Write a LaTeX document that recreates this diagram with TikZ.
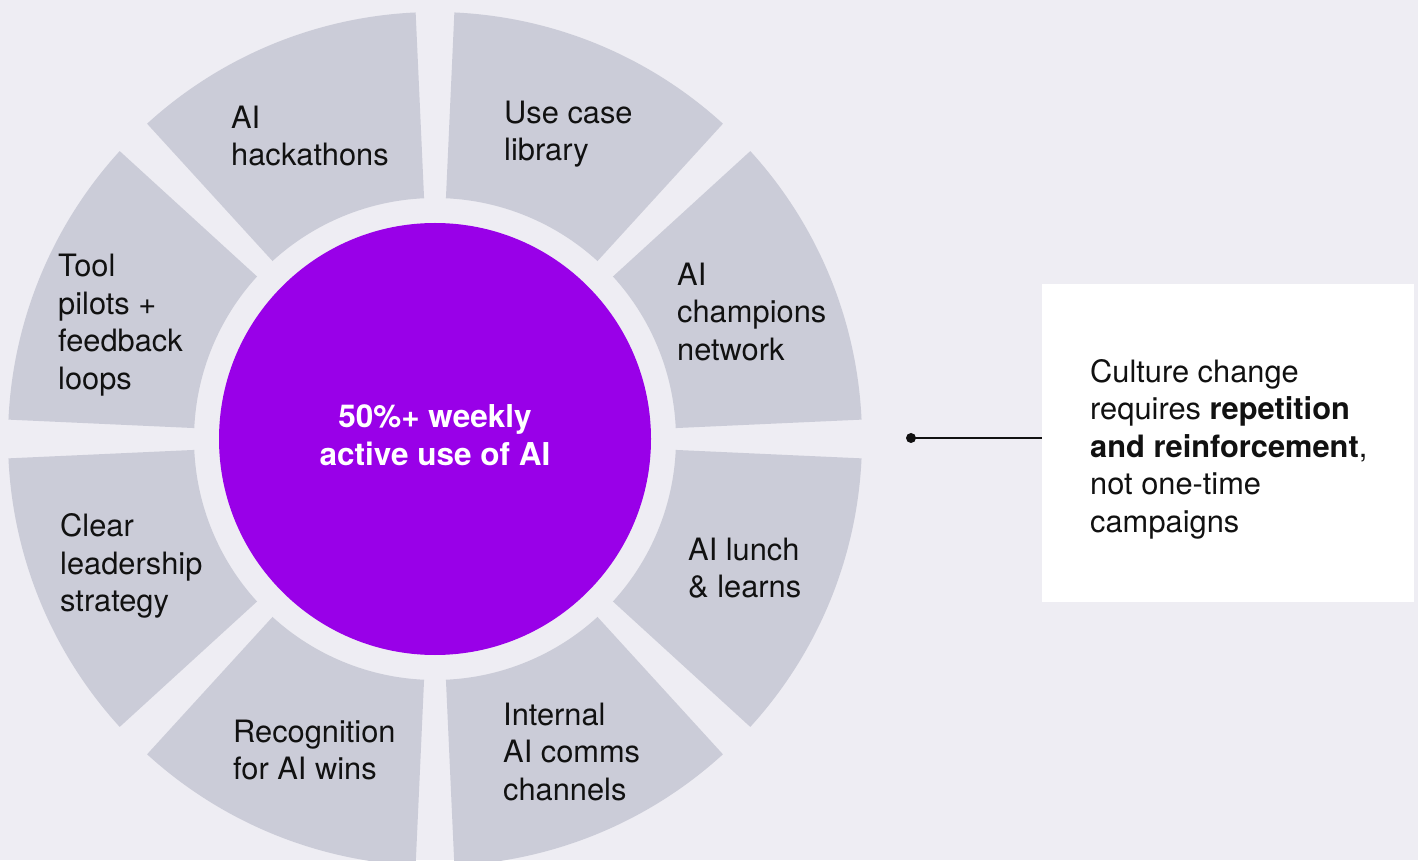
\documentclass[tikz,border=0pt]{standalone}
\usepackage{fontspec}
\setmainfont{TeX Gyre Heros}
\definecolor{pagebg}{HTML}{EEEDF3}
\definecolor{segfill}{HTML}{CBCCD8}
\definecolor{hub}{HTML}{9900E8}
\definecolor{ink}{HTML}{111111}
\begin{document}
\begin{tikzpicture}[x=1pt,y=1pt,
  seglabel/.style={anchor=west, align=left, inner sep=0pt,
    font=\fontsize{30.8}{37.5}\selectfont, text=ink},
  hubtext/.style={circle, fill=hub, minimum size=432pt, inner sep=0pt,
    align=center, text=white, font=\fontsize{31.5}{37.5}\selectfont\bfseries}]
  % page
  \fill[pagebg] (0,0) rectangle (1418,860);
  \useasboundingbox (0,0) rectangle (1418,860);
  \coordinate (c) at (435,421);
  % eight ring segments separated by narrow radial gaps
  \foreach \k in {0,...,7}{
    \pgfmathsetmacro\a{45*\k+2.6}
    \pgfmathsetmacro\b{45*\k+42.4}
    \fill[segfill, shift={(c)}] (\a:241pt) arc[start angle=\a, end angle=\b, radius=241pt]
      -- (\b:427pt) arc[start angle=\b, end angle=\a, radius=427pt] -- cycle;
  }
  % hub
  \node[hubtext] (goal) at (c) {};
  \node[align=center, text=white, inner sep=0pt, font=\fontsize{31.5}{37.5}\selectfont\bfseries]
    (goaltext) at ([yshift=4pt]goal.center) {50\%+ weekly\\active use of AI};
  % segment labels
  \node[seglabel] (champ)    at (677,548) {AI\\champions\\network};
  \node[seglabel] (usecase)  at (504,726) {Use case\\library};
  \node[seglabel] (hack)     at (231,724) {AI\\hackathons};
  \node[seglabel] (pilots)   at (58,535)  {Tool\\pilots +\\feedback\\loops};
  \node[seglabel] (lead)     at (60,294)  {Clear\\leadership\\strategy};
  \node[seglabel] (recog)    at (233,110) {Recognition\\for AI wins};
  \node[seglabel] (comms)    at (503,108) {Internal\\AI comms\\channels};
  \node[seglabel] (lunch)    at (688,292) {AI lunch\\\& learns};
  % call-out box
  \node[fill=white, minimum width=372pt, minimum height=318pt, inner sep=0pt] (note) at (1228,417) {};
  \node[seglabel] (notetext) at (1090,411)
    {Culture change\\requires \textbf{repetition}\\\textbf{and reinforcement},\\not one-time\\campaigns};
  % connector
  \coordinate (dot) at (911,422);
  \fill[ink] (dot) circle (5pt);
  \draw[ink, line width=2.5pt] (dot) -- (dot -| note.west);
\end{tikzpicture}
\end{document}
